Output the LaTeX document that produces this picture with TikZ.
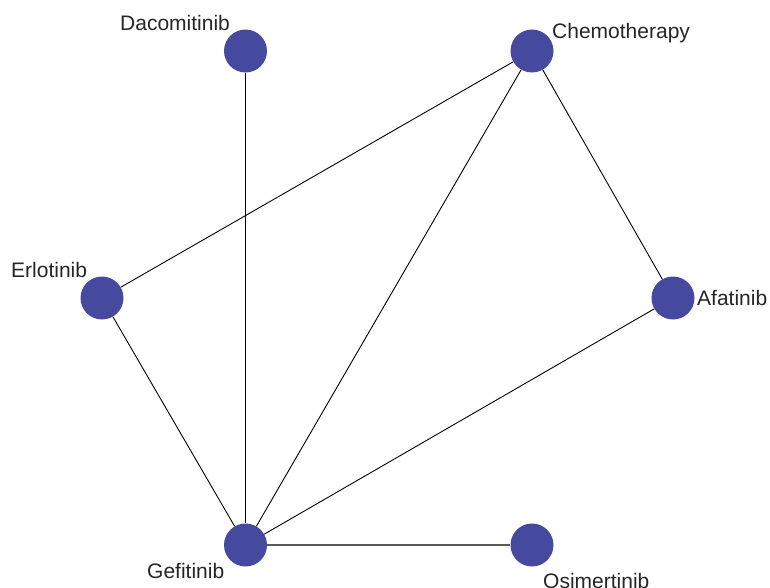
\documentclass[tikz,border=0pt]{standalone}
\usepackage{fontspec}
\setmainfont{Liberation Sans}
\definecolor{nodeblue}{RGB}{70,74,158}
\begin{document}
\begin{tikzpicture}[x=1pt,y=-1pt,
  drug/.style={circle,fill=nodeblue,draw=none,minimum size=43pt,inner sep=0pt},
  lab/.style={anchor=base west,inner sep=0pt,font=\fontsize{21}{25}\selectfont,text=black!85},
  edge/.style={black,line width=0.9pt},
  grayedge/.style={black!65,line width=1.6pt}]
\useasboundingbox (0,0) rectangle (770,587);
\node[drug] (dac) at (245.5,51) {};
\node[drug] (che) at (532,51) {};
\node[drug] (erl) at (102,298) {};
\node[drug] (afa) at (673,298) {};
\node[drug] (gef) at (245.5,545) {};
\node[drug] (osi) at (532,545) {};
\draw[edge] (dac) -- (gef);
\draw[edge] (che) -- (erl);
\draw[edge] (che) -- (gef);
\draw[edge] (che) -- (afa);
\draw[edge] (erl) -- (gef);
\draw[edge] (afa) -- (gef);
\draw[grayedge] (gef) -- (osi);
\node[lab] (ldac) at (120,30) {Dacomitinib};
\node[lab] (lche) at (552,38) {Chemotherapy};
\node[lab] (lerl) at (11,277) {Erlotinib};
\node[lab] (lafa) at (697,305) {Afatinib};
\node[lab] (lgef) at (147,578) {Gefitinib};
\node[lab] (losi) at (543,588) {Osimertinib};
\end{tikzpicture}
\end{document}
